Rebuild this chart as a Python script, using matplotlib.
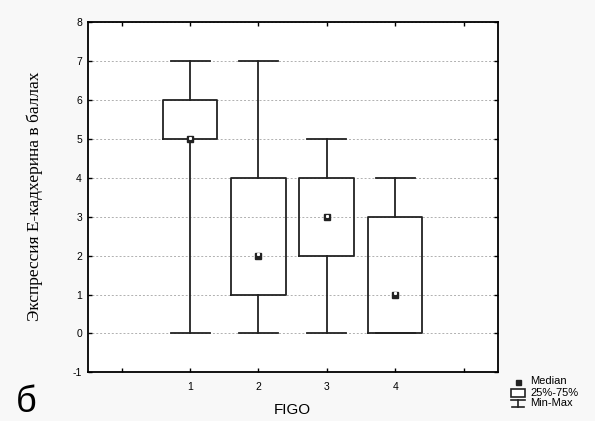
import matplotlib
matplotlib.use("Agg")
import matplotlib.pyplot as plt
from matplotlib.lines import Line2D
from matplotlib.patches import Rectangle

categories = ["1", "2", "3", "4"]
mins = [0, 0, 0, 0]
q1s = [5, 1, 2, 0]
medians = [5, 2, 3, 1]
q3s = [6, 4, 4, 3]
maxs = [7, 7, 5, 4]
yticks = [-1, 0, 1, 2, 3, 4, 5, 6, 7, 8]

W, H = 595, 421
fig = plt.figure(figsize=(W / 100, H / 100), dpi=100)
fig.patch.set_facecolor("#f8f8f8")
ax = fig.add_axes([87.5 / W, 1 - 372.3 / H, (497.7 - 87.5) / W, (372.3 - 22.3) / H])
ax.set_facecolor("white")

col = "#222222"
lw = 1.3
positions = list(range(1, len(categories) + 1))
stats = []
for c, lo, a, m, b, hi in zip(categories, mins, q1s, medians, q3s, maxs):
    stats.append(dict(label=c, whislo=lo, q1=a, med=m, q3=b, whishi=hi, fliers=[]))
ax.bxp(stats, positions=positions, widths=0.8, showfliers=False,
       boxprops=dict(color=col, linewidth=lw),
       whiskerprops=dict(color=col, linewidth=lw),
       capprops=dict(color=col, linewidth=lw),
       medianprops=dict(linestyle="none"),
       capwidths=0.57, zorder=3)
ax.plot(positions, medians, linestyle="none", marker="s", ms=5,
        mfc=col, mec=col, zorder=4)
ax.plot(positions, [m + 0.03 for m in medians], linestyle="none", marker="s", ms=1.2,
        mfc="white", mec="white", zorder=5)

ax.set_xlim(-0.5, 5.5)
ax.set_ylim(-1, 8)
ax.set_xticks(range(0, 6))
ax.set_xticklabels([""] + categories + [""])
ax.set_yticks(yticks)
ax.set_yticklabels([str(v) for v in yticks])
ax.yaxis.grid(True, linestyle=(0, (2, 2)), color="#b0b0b0", linewidth=0.7)
ax.set_axisbelow(True)
ax.tick_params(direction="in", length=3, width=1, top=True, right=True,
               labelsize=7.5, colors="black")
ax.tick_params(axis="x", pad=7)
ax.tick_params(axis="y", pad=4)
for lab in ax.get_xticklabels() + ax.get_yticklabels():
    lab.set_family("Liberation Sans")
for s in ax.spines.values():
    s.set_linewidth(1.3)
    s.set_color("black")

ax.set_xlabel("FIGO", family="Liberation Sans", fontsize=11, labelpad=8)
fig.text(35 / W, 1 - 196 / H, "Экспрессия Е-кадхерина в баллах", family="Liberation Serif",
         fontsize=12.5, rotation=90, ha="center", va="center")

fig.text(16 / W, 1 - 402 / H, "б", family="Liberation Sans", fontsize=26,
         ha="left", va="center")

# legend
def fx(x):
    return x / W

def fy(y):
    return 1 - y / H

fig.add_artist(Rectangle((fx(515.5), fy(384.5)), 5 / W, 5 / H, transform=fig.transFigure,
                         facecolor=col, edgecolor=col))
fig.add_artist(Rectangle((fx(511), fy(397)), 14 / W, 8 / H, transform=fig.transFigure,
                         facecolor="white", edgecolor=col, linewidth=1.2))
fig.add_artist(Line2D([fx(511), fx(525)], [fy(400), fy(400)], transform=fig.transFigure,
                      color=col, linewidth=1.2))
fig.add_artist(Line2D([fx(518), fx(518)], [fy(400), fy(407)], transform=fig.transFigure,
                      color=col, linewidth=1.2))
fig.add_artist(Line2D([fx(512), fx(524)], [fy(407), fy(407)], transform=fig.transFigure,
                      color=col, linewidth=1.2))
for y, t in [(381.5, "Median"), (392.5, "25%-75%"), (403.5, "Min-Max")]:
    fig.text(fx(530), fy(y), t, family="Liberation Sans", fontsize=8,
             ha="left", va="center")

fig.savefig("out.png", dpi=100, facecolor=fig.get_facecolor())
